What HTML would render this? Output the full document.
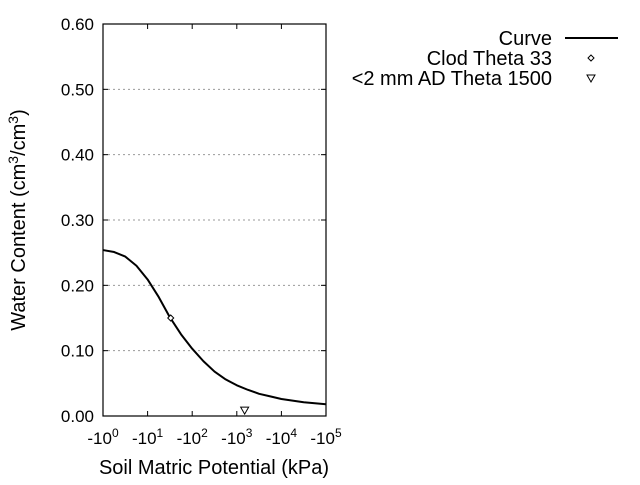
<!DOCTYPE html>
<html><head><meta charset="utf-8"><style>
body{margin:0;background:#fff;}
svg text{font-family:"Liberation Sans",Arial,sans-serif;fill:#000;}
</style></head><body>
<svg id="c" width="640" height="480" viewBox="0 0 640 480"></svg>
<script>
const yTicks=[0,0.1,0.2,0.3,0.4,0.5,0.6];
const yTickLabels=["0.00","0.10","0.20","0.30","0.40","0.50","0.60"];
const xDecades=[0,1,2,3,4,5];
const curveLogX=[0,0.25,0.5,0.75,1.0,1.25,1.5,1.75,2.0,2.25,2.5,2.75,3.0,3.25,3.5,3.75,4.0,4.5,5];
const curveY=[0.254,0.251,0.244,0.230,0.209,0.182,0.151,0.125,0.103,0.084,0.068,0.056,0.047,0.040,0.034,0.030,0.026,0.021,0.018];
const clodX=[33];const clodY=[0.15];
const adX=[1500];const adY=[0.009];
const L=103,R=326,T=24,B=416;
const sx=v=>L+(v-0)/(5-0)*(R-L);
const sy=v=>B-(v/0.6)*(B-T);
const NS="http://www.w3.org/2000/svg";
const svg=document.getElementById('c');
function mk(tag,attrs,parent){const e=document.createElementNS(NS,tag);for(const k in attrs)e.setAttribute(k,attrs[k]);(parent||svg).appendChild(e);return e;}
yTicks.forEach((v,i)=>{
  const y=sy(v);
  if(i>0&&i<yTicks.length-1){const g=mk('line',{x1:L,x2:R,y1:y,y2:y,stroke:'#999','stroke-dasharray':'2,3','stroke-width':1});
  
  }
  const t=mk('line',{x1:L,x2:L+5,y1:y,y2:y,stroke:'#000'});
  
  
  const t2=mk('line',{x1:R-5,x2:R,y1:y,y2:y,stroke:'#000'});
  
  
  const lb=mk('text',{x:94,y:y+6,'text-anchor':'end','font-size':17});
  lb.textContent=yTickLabels[i];
  
  
});
xDecades.forEach(d=>{
  const x=sx(d);
  const t=mk('line',{x1:x,x2:x,y1:B,y2:B-5,stroke:'#000'});
  
  
  const t2=mk('line',{x1:x,x2:x,y1:T,y2:T+5,stroke:'#000'});
  
  
  const lb=mk('text',{x:x,y:444,'text-anchor':'middle','font-size':17});
  lb.innerHTML='-10<tspan dy="-7" font-size="12">'+d+'</tspan>';
  
  
});
const fr=mk('rect',{x:L,y:T,width:R-L,height:B-T,fill:'none',stroke:'#000','stroke-width':1.2});


const pts=curveLogX.map((v,i)=>sx(v)+','+sy(curveY[i])).join(' ');
const cv=mk('polyline',{points:pts,fill:'none',stroke:'#000','stroke-width':2,'stroke-linejoin':'round'});


clodX.forEach((v,i)=>{const x=sx(Math.log10(v)),y=sy(clodY[i]);
  const p=mk('polygon',{points:`${x},${y-3} ${x+3},${y} ${x},${y+3} ${x-3},${y}`,fill:'#fff',stroke:'#000'});
  
  });
adX.forEach((v,i)=>{const x=sx(Math.log10(v)),y=sy(adY[i]);
  const p=mk('polygon',{points:`${x-4},${y-3} ${x+4},${y-3} ${x},${y+4}`,fill:'#fff',stroke:'#000'});
  
  });
</script>
<svg width="640" height="480" style="position:absolute;left:0;top:0">
<text x="214" y="474" text-anchor="middle" font-size="20">Soil Matric Potential (kPa)</text>
<text transform="translate(25,220) rotate(-90)" text-anchor="middle" font-size="20">Water Content (cm<tspan dy="-7" font-size="14">3</tspan><tspan dy="7">/cm</tspan><tspan dy="-7" font-size="14">3</tspan><tspan dy="7">)</tspan></text>
<g>
<text x="552" y="45" text-anchor="end" font-size="20">Curve</text>
<line x1="565" x2="618" y1="38" y2="38" stroke="#000" stroke-width="2"/>
<text x="552" y="65" text-anchor="end" font-size="20">Clod Theta 33</text>
<polygon points="591,55 594,58 591,61 588,58" fill="#fff" stroke="#000"/>
<text x="552" y="85" text-anchor="end" font-size="20">&lt;2 mm AD Theta 1500</text>
<polygon points="587,75 595,75 591,82" fill="#fff" stroke="#000"/>
</g>
</svg>
</body></html>
